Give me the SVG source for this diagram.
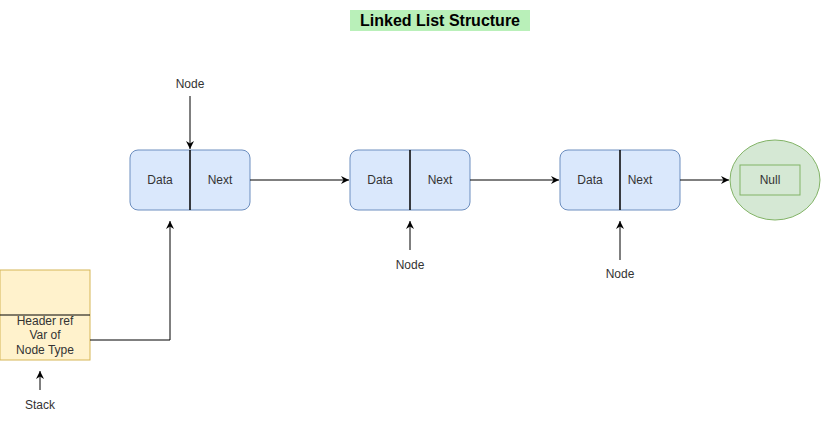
<svg xmlns="http://www.w3.org/2000/svg" width="821" height="421" viewBox="0 0 821 421">
<defs>
<marker id="arr" markerWidth="12" markerHeight="12" refX="9" refY="6" orient="auto" markerUnits="userSpaceOnUse">
<path d="M1,2 L9,6 L1,10 L3.5,6 Z" fill="#000"/>
</marker>
<style>
text{font-family:"Liberation Sans",Arial,sans-serif;font-size:12px;fill:#333;text-anchor:middle;dominant-baseline:central}
.node{fill:#dae8fc;stroke:#6c8ebf;stroke-width:1}
.div{stroke:#000;stroke-width:1.5}
.edge{fill:none;stroke:#000;stroke-width:1;marker-end:url(#arr)}
</style>
</defs>
<rect width="821" height="421" fill="#fff"/>
<g id="title">
<rect x="350" y="10" width="180" height="21" fill="#b9f0b9"/>
<text x="440" y="20" style="font-size:16px;font-weight:bold;fill:#000">Linked List Structure</text>
</g>
<g id="node1">
<rect class="node" x="130" y="150" width="120" height="60" rx="8"/>
<line class="div" x1="190" y1="150" x2="190" y2="210"/>
<text x="160" y="180">Data</text>
<text x="220" y="180">Next</text>
</g>
<g id="node2">
<rect class="node" x="350" y="150" width="120" height="60" rx="8"/>
<line class="div" x1="410" y1="150" x2="410" y2="210"/>
<text x="380" y="180">Data</text>
<text x="440" y="180">Next</text>
</g>
<g id="node3">
<rect class="node" x="560" y="150" width="120" height="60" rx="8"/>
<line class="div" x1="620" y1="150" x2="620" y2="210"/>
<text x="590" y="180">Data</text>
<text x="640" y="180">Next</text>
</g>
<g id="null">
<ellipse cx="775" cy="180" rx="45" ry="40" fill="#d5e8d4" stroke="#82b366"/>
<rect x="740" y="165" width="60" height="30" fill="#d5e8d4" stroke="#82b366"/>
<text x="770" y="180">Null</text>
</g>
<g id="stack">
<rect x="0" y="270" width="90" height="90" fill="#fff2cc" stroke="#d6b656"/>
<line x1="0" y1="315" x2="90" y2="315" stroke="#000"/>
<text x="45" y="321">Header ref</text>
<text x="45" y="335">Var of</text>
<text x="45" y="350">Node Type</text>
</g>
<g id="labels">
<text x="190" y="84">Node</text>
<text x="410" y="265">Node</text>
<text x="620" y="274">Node</text>
<text x="40" y="405">Stack</text>
</g>
<g id="connectors">
<path class="edge" d="M250,180 L349,180"/>
<path class="edge" d="M470,180 L559,180"/>
<path class="edge" d="M680,180 L729,180"/>
<path class="edge" d="M90,340 L170,340 L170,221"/>
<path class="edge" d="M190,96 L190,149"/>
<path class="edge" d="M410,250 L410,221"/>
<path class="edge" d="M620,260 L620,221"/>
<path class="edge" d="M40,390 L40,371"/>
</g>
</svg>
